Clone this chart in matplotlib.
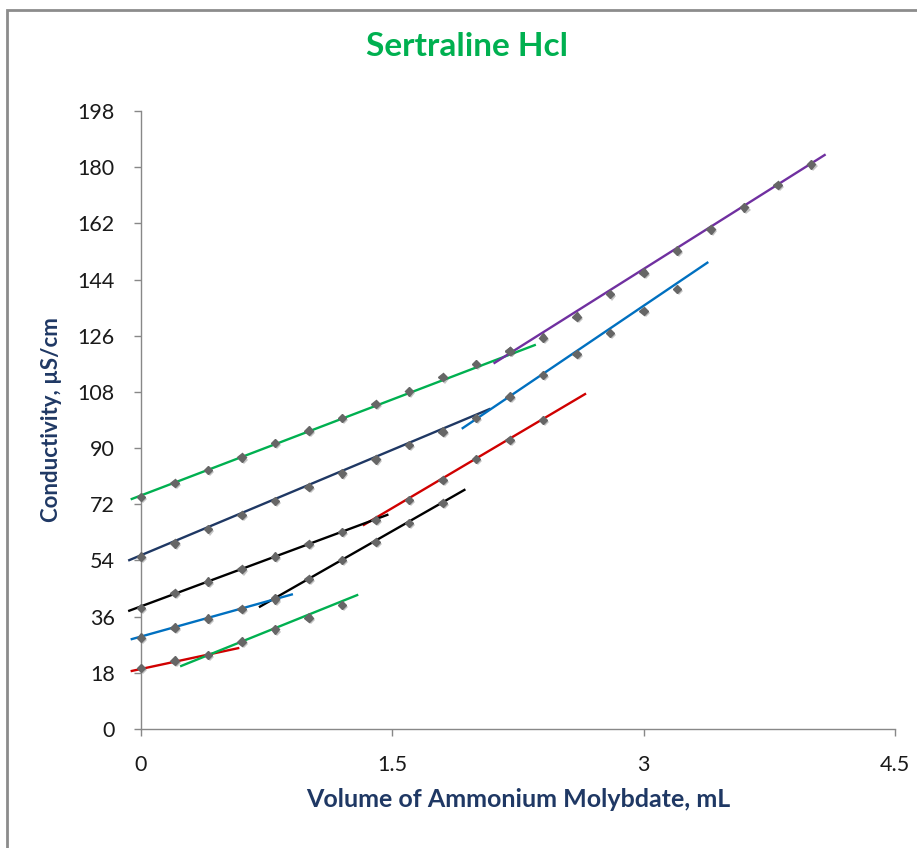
import numpy as np
import matplotlib
matplotlib.use("Agg")
import matplotlib.pyplot as plt
import matplotlib.patheffects as pe
from matplotlib.patches import Rectangle

plt.rcParams['font.family'] = ['Lato', 'DejaVu Sans']

## measured points (volume mL, conductivity uS/cm)
green_top_x = [0, 0.2, 0.4, 0.6, 0.8, 1.0, 1.2, 1.4, 1.6, 1.8, 2.0, 2.2]
green_top_y = [74.4, 78.8, 83.0, 87.0, 91.6, 95.6, 99.7, 104.2, 108.2, 112.7, 116.9, 121.1]

purple_x = [2.2, 2.4, 2.6, 2.8, 3.0, 3.2, 3.4, 3.6, 3.8, 4.0]
purple_y = [121.1, 125.4, 132.1, 139.3, 146.2, 153.3, 160.1, 167.1, 174.3, 180.9]

navy_x = [0, 0.2, 0.4, 0.6, 0.8, 1.0, 1.2, 1.4, 1.6, 1.8, 2.0]
navy_y = [55.2, 59.5, 64.0, 68.6, 73.1, 77.6, 81.9, 86.4, 91.0, 95.3, 99.6]

blue_top_x = [2.2, 2.4, 2.6, 2.8, 3.0, 3.2]
blue_top_y = [106.5, 113.4, 120.2, 126.9, 133.9, 141.0]

red_top_x = [1.4, 1.6, 1.8, 2.0, 2.2, 2.4]
red_top_y = [67.0, 73.4, 79.8, 86.5, 92.6, 99.0]

black_top_x = [0, 0.2, 0.4, 0.6, 0.8, 1.0, 1.2]
black_top_y = [38.8, 43.6, 47.2, 51.2, 55.2, 59.3, 63.2]

black_low_x = [0.8, 1.0, 1.2, 1.4, 1.6, 1.8]
black_low_y = [42.0, 48.0, 54.1, 60.0, 66.0, 72.4]

blue_low_x = [0, 0.2, 0.4, 0.6, 0.8]
blue_low_y = [29.3, 32.5, 35.4, 38.4, 41.5]

red_low_x = [0, 0.2, 0.4]
red_low_y = [19.6, 21.9, 23.7]

green_low_x = [0.6, 0.8, 1.0, 1.2]
green_low_y = [28.0, 31.9, 35.7, 39.7]

## trend lines: [x start, x end], [y start, y end]
trends = [
    ([-0.055, 2.35], [73.7, 123.0], '#00B050'),
    ([2.11, 4.08], [117.3, 183.9], '#7030A0'),
    ([-0.07, 2.08], [54.1, 102.5], '#1F3864'),
    ([1.92, 3.38], [96.4, 149.4], '#0070C0'),
    ([1.33, 2.65], [65.4, 107.3], '#D00000'),
    ([-0.07, 1.47], [37.9, 68.6], '#000000'),
    ([0.71, 1.93], [39.2, 76.6], '#000000'),
    ([-0.055, 0.9], [28.8, 43.1], '#0070C0'),
    ([-0.055, 0.58], [18.6, 25.9], '#D00000'),
    ([0.24, 1.29], [20.2, 42.9], '#00B050'),
]

points = [
    (green_top_x, green_top_y), (purple_x, purple_y), (navy_x, navy_y),
    (blue_top_x, blue_top_y), (red_top_x, red_top_y), (black_top_x, black_top_y),
    (black_low_x, black_low_y), (blue_low_x, blue_low_y), (red_low_x, red_low_y),
    (green_low_x, green_low_y),
]

x_ticks = [0, 1.5, 3, 4.5]
y_ticks = [0, 18, 36, 54, 72, 90, 108, 126, 144, 162, 180, 198]

fig = plt.figure(figsize=(9.17, 8.48), dpi=100)
ax = fig.add_axes([141/917, 119/848, 754/917, 618/848])

for xs, ys, col in trends:
    ax.plot(xs, ys, color=col, lw=1.7, clip_on=False, zorder=2)

shadow = [pe.SimplePatchShadow(offset=(1.5, -1.5), shadow_rgbFace='#555555', alpha=0.35),
          pe.Normal()]
for xs, ys in points:
    ax.plot(xs, ys, ls='none', marker='D', ms=4.3, color='#666666',
            clip_on=False, zorder=3, path_effects=shadow)

ax.set_xlim(0, 4.5)
ax.set_ylim(0, 198)
ax.set_xticks(x_ticks)
ax.set_xticklabels(['0', '1.5', '3', '4.5'])
ax.set_yticks(y_ticks)

for s in ['top', 'right']:
    ax.spines[s].set_visible(False)
for s in ['left', 'bottom']:
    ax.spines[s].set_color('#888888')
    ax.spines[s].set_linewidth(1.0)
ax.tick_params(axis='both', direction='out', length=5, width=1, color='#888888',
               labelsize=15.5, labelcolor='#1a1a1a')
ax.tick_params(axis='x', pad=14)
ax.tick_params(axis='y', pad=14)

ax.set_xlabel('Volume of Ammonium Molybdate, mL', fontsize=18, fontweight='bold',
              color='#1F3864', labelpad=9)
ax.set_ylabel('Conductivity, µS/cm', fontsize=16, fontweight='bold',
              color='#1F3864', labelpad=11)

fig.text(467/917, 1 - 46/848, 'Sertraline Hcl', fontsize=24, fontweight='bold',
         color='#00B050', ha='center', va='center')

fig.patches.append(Rectangle((7/917, -0.05), 1.1, (848 - 10)/848 + 0.05,
                             transform=fig.transFigure, fill=False,
                             edgecolor='#8c8c8c', lw=2))

fig.savefig('out.png', dpi=100)
